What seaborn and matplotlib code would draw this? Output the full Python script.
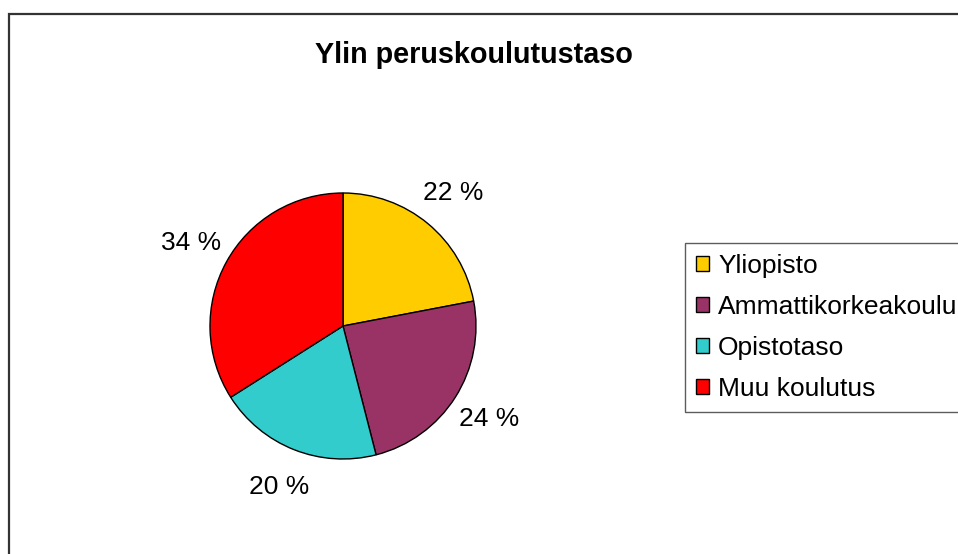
import matplotlib
matplotlib.use("Agg")
import matplotlib.pyplot as plt
import seaborn as sns
from matplotlib.patches import Rectangle

categories = ["Yliopisto", "Ammattikorkeakoulu", "Opistotaso", "Muu koulutus"]
values = [22, 24, 20, 34]
colors = ["#FFCC00", "#993366", "#33CCCC", "#FF0000"]
title = "Ylin peruskoulutustaso"

sns.set_theme(style="white")
plt.rcParams['font.family'] = ['Liberation Sans', 'DejaVu Sans']
plt.rcParams['text.color'] = 'black'

W, H = 958, 554
fig = plt.figure(figsize=(W / 100, H / 100), dpi=100)
fig.patch.set_facecolor("white")

# chart border (extends past right and bottom edges)
fig.patches.append(Rectangle((9 / W, -0.1), 1.2, 1 - 14 / H + 0.1,
                             transform=fig.transFigure, fill=False,
                             edgecolor="#333333", linewidth=1.6, zorder=0))

cx, cy, r = 343, 326, 133
ax = fig.add_axes([(cx - r) / W, (H - cy - r) / H, 2 * r / W, 2 * r / H])
palette = sns.color_palette(colors)
wedges, texts = ax.pie(values, labels=[f"{v} %" for v in values],
                       colors=palette, startangle=90, counterclock=False,
                       labeldistance=1.3,
                       wedgeprops=dict(edgecolor="black", linewidth=1.0),
                       textprops=dict(fontsize=19, color="black"))
for t in texts:
    t.set_ha("center")
    t.set_va("center")
ax.set_xlim(-1, 1)
ax.set_ylim(-1, 1)
ax.set_aspect("equal")
ax.axis("off")

fig.text(474 / W, 1 - 55 / H, title, ha="center", va="center",
         fontsize=20.7, fontweight="bold", color="black")

leg = fig.legend(wedges, categories, loc="upper left",
                 bbox_to_anchor=(685 / W, 1 - 243 / H),
                 frameon=True, fancybox=False, fontsize=19,
                 handlelength=0.5, handleheight=0.5, handletextpad=0.35,
                 labelspacing=0.65, borderpad=0.4, borderaxespad=0,
                 labelcolor="black")
leg.get_frame().set_edgecolor("#333333")
leg.get_frame().set_linewidth(1.0)

fig.savefig("out.png", dpi=100, facecolor="white")
